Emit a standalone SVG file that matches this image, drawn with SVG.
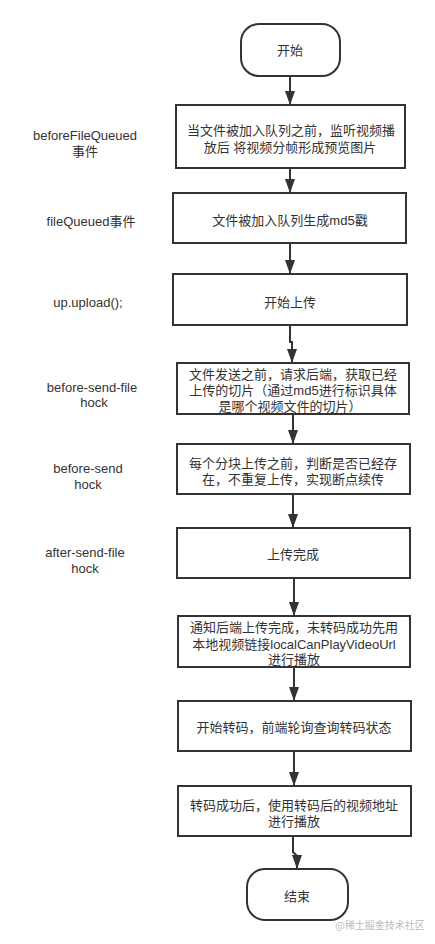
<svg xmlns="http://www.w3.org/2000/svg" width="435" height="944" viewBox="0 0 435 944">
<style>
.box{fill:#fff;stroke:#333;stroke-width:2}
.t{font-family:"Liberation Sans","Noto Sans CJK SC",sans-serif;font-size:13px;fill:#333;text-anchor:middle;dominant-baseline:central}
.lbl{font-family:"Liberation Sans","Noto Sans CJK SC",sans-serif;font-size:13px;fill:#333;text-anchor:middle;dominant-baseline:central}
.edge{fill:none;stroke:#333;stroke-width:2}
.wm{font-family:"Noto Sans CJK SC",sans-serif;font-size:10px;fill:#bbb;text-anchor:middle;dominant-baseline:central}
</style>
<defs>
<marker id="arr" markerUnits="userSpaceOnUse" viewBox="0 0 14 10" refX="14" refY="5" markerWidth="14" markerHeight="10" orient="auto">
<path d="M0,0 L14,5 L0,10 z" fill="#333"/>
</marker>
</defs>
<rect width="435" height="944" fill="#fff"/>
<g id="connectors">
<path class="edge" d="M290 76 V105" marker-end="url(#arr)"/>
<path class="edge" d="M290 168 V193" marker-end="url(#arr)"/>
<path class="edge" d="M290 243 V274" marker-end="url(#arr)"/>
<path class="edge" d="M290 325 V342 H292 V363" marker-end="url(#arr)"/>
<path class="edge" d="M293 414 V444" marker-end="url(#arr)"/>
<path class="edge" d="M293 494 V528" marker-end="url(#arr)"/>
<path class="edge" d="M294 578 V616" marker-end="url(#arr)"/>
<path class="edge" d="M294 667 V701" marker-end="url(#arr)"/>
<path class="edge" d="M294 751 V786" marker-end="url(#arr)"/>
<path class="edge" d="M293 836 V852 L297 856 V869" marker-end="url(#arr)"/>
</g>
<g id="start">
<rect class="box" x="241" y="24" width="99" height="52" rx="18"/>
<text class="t" x="290" y="50">开始</text>
</g>
<g id="n1">
<rect class="box" x="176" y="105" width="229" height="63"/>
<text class="t" x="291" y="130">当文件被加入队列之前，监听视频播</text>
<text class="t" x="290" y="147">放后 将视频分帧形成预览图片</text>
</g>
<g id="n2">
<rect class="box" x="173" y="193" width="233" height="50"/>
<text class="t" x="290" y="220">文件被加入队列生成md5戳</text>
</g>
<g id="n3">
<rect class="box" x="173" y="274" width="234" height="51"/>
<text class="t" x="290" y="302">开始上传</text>
</g>
<g id="n4">
<rect class="box" x="177" y="363" width="232" height="51"/>
<text class="t" x="293" y="374">文件发送之前，请求后端，获取已经</text>
<text class="t" x="293" y="390">上传的切片（通过md5进行标识具体</text>
<text class="t" x="290" y="406">是哪个视频文件的切片）</text>
</g>
<g id="n5">
<rect class="box" x="177" y="444" width="233" height="50"/>
<text class="t" x="293" y="463">每个分块上传之前，判断是否已经存</text>
<text class="t" x="293" y="479">在，不重复上传，实现断点续传</text>
</g>
<g id="n6">
<rect class="box" x="177" y="528" width="233" height="50"/>
<text class="t" x="293" y="554">上传完成</text>
</g>
<g id="n7">
<rect class="box" x="178" y="616" width="232" height="51"/>
<text class="t" x="294" y="627">通知后端上传完成，未转码成功先用</text>
<text class="t" x="294" y="644">本地视频链接localCanPlayVideoUrl</text>
<text class="t" x="294" y="659">进行播放</text>
</g>
<g id="n8">
<rect class="box" x="178" y="701" width="233" height="50"/>
<text class="t" x="294" y="727">开始转码，前端轮询查询转码状态</text>
</g>
<g id="n9">
<rect class="box" x="178" y="786" width="233" height="50"/>
<text class="t" x="294" y="805">转码成功后，使用转码后的视频地址</text>
<text class="t" x="294" y="821">进行播放</text>
</g>
<g id="end">
<rect class="box" x="247" y="869" width="101" height="51" rx="18"/>
<text class="t" x="297" y="896">结束</text>
</g>
<g id="labels">
<text class="lbl" x="85" y="135">beforeFileQueued</text>
<text class="lbl" x="85" y="151">事件</text>
<text class="lbl" x="91" y="221">fileQueued事件</text>
<text class="lbl" x="88" y="302">up.upload();</text>
<text class="lbl" x="92" y="387">before-send-file</text>
<text class="lbl" x="94" y="402">hock</text>
<text class="lbl" x="88" y="468">before-send</text>
<text class="lbl" x="88" y="484">hock</text>
<text class="lbl" x="85" y="552">after-send-file</text>
<text class="lbl" x="85" y="568">hock</text>
</g>
<text class="wm" x="380" y="924">@稀土掘金技术社区</text>
</svg>
